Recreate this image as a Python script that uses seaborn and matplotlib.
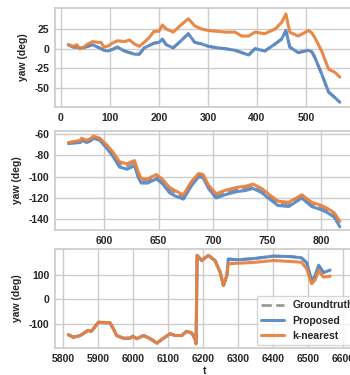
import numpy as np
import pandas as pd
import matplotlib
matplotlib.use("Agg")
import matplotlib.pyplot as plt
import seaborn as sns

# ---- segment 1 ----
t1 = [15, 25, 33, 38, 45, 55, 65, 75, 82, 88, 95, 105, 115, 130, 140, 150, 160,
      170, 180, 190, 200, 207, 215, 229, 245, 260, 273, 287, 301, 320, 335, 355,
      369, 383, 396, 416, 437, 450, 459, 467, 484, 505, 512, 518, 532, 546, 559, 569]
knn1 = [5, 3, 5, 0, 1, 6, 9, 8, 8, 2, 3, 7, 10, 9, 11, 6, 3,
        8, 14, 22, 22, 30, 25, 21, 30, 38, 29, 25, 23, 22, 21, 21,
        16, 16, 21, 19, 25, 33, 44, 21, 16, 23, 20, 14, -3, -26, -30, -36]
prop1 = [5, 2, 2, 1, 1, 3, 5, 2, 0, -2, -3, -1, 2, -3, -5, -7, -7,
         1, 4, 7, 8, 12, 5, 1, 10, 19, 8, 6, 3, 1, 0, -2,
         -5, -8, 0, -3, 6, 12, 23, 2, -5, -2, -4, -11, -32, -55, -62, -68]
gt1 = prop1

# ---- segment 2 ----
t2 = [567, 578, 579, 584, 588, 590, 596, 602, 608, 614, 621, 625, 628, 631, 634,
      640, 648, 654, 660, 665, 673, 680, 687, 691, 696, 703, 711, 722, 730, 737,
      745, 751, 760, 770, 782, 791, 800, 806, 812, 817]
knn2 = [-68, -66, -64, -66, -64, -62, -64, -70, -77, -86, -88, -86, -85, -95, -102,
        -102, -98, -103, -110, -113, -117, -105, -97, -98, -108, -116, -113, -110, -109, -107,
        -111, -116, -123, -124, -117, -124, -127, -130, -134, -142]
prop2 = [-69, -68, -66, -68, -66, -64, -66, -73, -81, -91, -93, -91, -90, -100, -106,
         -106, -102, -107, -115, -118, -121, -109, -100, -101, -111, -120, -117, -114, -113, -111,
         -115, -120, -127, -128, -120, -128, -131, -134, -138, -147]
gt2 = [-68, -67, -65, -67, -65, -63, -65, -71, -79, -88, -90, -88, -87, -97, -104,
       -104, -100, -105, -112, -115, -119, -107, -98, -99, -109, -118, -115, -112, -111, -109,
       -113, -118, -125, -126, -118, -126, -129, -132, -136, -144]

# ---- segment 3 ----
t3 = [5814, 5829, 5848, 5871, 5880, 5900, 5933, 5943, 5952, 5971, 5990, 5998, 6010,
      6029, 6048, 6067, 6086, 6105, 6119, 6138, 6152, 6166, 6176, 6179, 6182, 6195,
      6214, 6233, 6248, 6257, 6267, 6271, 6300, 6350, 6400, 6450, 6480, 6495, 6509,
      6519, 6529, 6543, 6562]
knn3 = [-144, -154, -147, -126, -130, -93, -95, -120, -147, -158, -158, -150, -160,
        -147, -160, -178, -158, -140, -147, -147, -130, -136, -160, -181, 180, 159,
        180, 159, 111, 57, 98, 146, 148, 152, 159, 155, 152, 125, 64,
        80, 118, 91, 95]
prop3 = [-144, -154, -147, -126, -130, -93, -95, -120, -147, -158, -158, -150, -160,
         -147, -160, -178, -158, -140, -147, -147, -130, -136, -160, -181, 180, 159,
         180, 159, 111, 57, 98, 165, 162, 168, 177, 175, 170, 150, 78,
         95, 140, 110, 120]
gt3 = prop3

segments = [
    (t1, gt1, prop1, knn1, (-12, 600), (-74, 51.6), [0, 100, 200, 300, 400, 500], [-50, -25, 0, 25]),
    (t2, gt2, prop2, knn2, (554.6, 831), (-150, -57.2), [600, 650, 700, 750, 800], [-140, -120, -100, -80, -60]),
    (t3, gt3, prop3, knn3, (5776, 6633), (-198, 206), list(range(5800, 6601, 100)), [-100, 0, 100]),
]

sns.set_theme(style="whitegrid")
plt.rcParams["font.family"] = ["Liberation Sans", "DejaVu Sans"]
plt.rcParams["font.weight"] = "bold"
plt.rcParams["axes.labelweight"] = "bold"
plt.rcParams["axes.unicode_minus"] = False

fig = plt.figure(figsize=(3.5, 3.75), dpi=100)
W, H = 350.0, 375.0
boxes = [(8, 107), (131, 230), (249, 348)]
blue = "#5a8ac6"
orange = "#e8823f"
fs = 7.5

for i, (t, gt, prop, knn, xl, yl, xt, yt) in enumerate(segments):
    top, bot = boxes[i]
    ax = fig.add_axes([55 / W, 1 - bot / H, (355 - 55) / W, (bot - top) / H])
    df = pd.DataFrame({"t": t, "Groundtruth": gt, "Proposed": prop, "k-nearest": knn})
    sns.lineplot(data=df, x="t", y="Groundtruth", ax=ax, color="#999999",
                 linestyle="--", linewidth=2.0, label="Groundtruth")
    sns.lineplot(data=df, x="t", y="Proposed", ax=ax, color=blue,
                 linewidth=2.2, alpha=0.95, label="Proposed")
    sns.lineplot(data=df, x="t", y="k-nearest", ax=ax, color=orange,
                 linewidth=2.2, alpha=0.95, label="k-nearest")
    ax.set_xlim(*xl)
    ax.set_ylim(*yl)
    ax.set_xticks(xt)
    ax.set_yticks(yt)
    ax.tick_params(labelsize=fs, length=0, pad=4, colors="#262626")
    for lab in ax.get_xticklabels() + ax.get_yticklabels():
        lab.set_fontweight("bold")
    ax.set_ylabel("yaw (deg)", fontsize=fs, labelpad=5)
    for s in ax.spines.values():
        s.set_color("#cccccc")
    if i < 2:
        ax.set_xlabel("")
        ax.get_legend().remove()
    else:
        ax.set_xlabel("t", fontsize=fs, labelpad=2)
        leg = ax.legend(loc="lower right", fontsize=fs, frameon=True,
                        bbox_to_anchor=(1.02, 0.0),
                        borderaxespad=0.3, handlelength=2.2)
        for txt in leg.get_texts():
            txt.set_fontweight("bold")

fig.savefig("out.png", dpi=100)
